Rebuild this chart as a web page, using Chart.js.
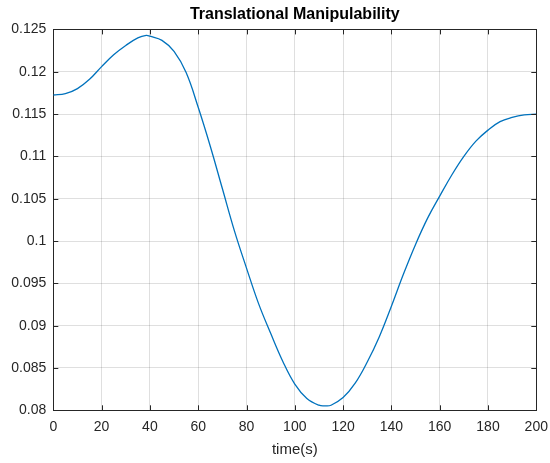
<!DOCTYPE html>
<html>
<head>
<meta charset="utf-8">
<title>Translational Manipulability</title>
<script src="https://cdn.jsdelivr.net/npm/chart.js@4"></script>
<style>
  html, body { margin: 0; padding: 0; background: #fff; }
  #wrap { width: 550px; height: 463px; }
</style>
</head>
<body>
<div id="wrap"><canvas id="myChart" width="550" height="463"></canvas></div>
<script>
// time samples (s) and manipulability
var times = [0, 5, 10, 15, 20, 25, 30, 35, 38.5, 40, 45, 50, 55, 60, 65, 70, 75, 80, 85, 90,
             95, 100, 105, 110, 112.5, 115, 120, 125, 130, 135, 140, 145, 150, 155, 160,
             165, 170, 175, 180, 185, 190, 195, 200];
var manip = [0.11725, 0.1174, 0.1180, 0.1191, 0.1206, 0.1220, 0.1231, 0.1240, 0.1243, 0.1242, 0.1237, 0.1224, 0.1199, 0.1158, 0.1112, 0.1062, 0.1012, 0.0968, 0.0926, 0.0891,
             0.0858, 0.0831, 0.0814, 0.0806, 0.08053, 0.0806, 0.0815, 0.0832, 0.0857, 0.0887, 0.0923, 0.0961, 0.0996, 0.1027, 0.1053,
             0.1078, 0.1100, 0.1118, 0.1131, 0.1141, 0.1146, 0.1149, 0.1150];

var xTicks = [0, 20, 40, 60, 80, 100, 120, 140, 160, 180, 200];
var yTicks = [0.08, 0.085, 0.09, 0.095, 0.1, 0.105, 0.11, 0.115, 0.12, 0.125];

var axisColor = '#262626';
var gridColor = 'rgba(38,38,38,0.15)';

Chart.defaults.font.family = "'Liberation Sans', Arial, sans-serif";
Chart.defaults.color = axisColor;

// MATLAB style ticks that point into the axes
var innerTicks = {
  id: 'innerTicks',
  afterDatasetsDraw: function(chart) {
    var a = chart.chartArea, ctx = chart.ctx, len = 5;
    var xs = chart.scales.x, ys = chart.scales.y;
    ctx.save();
    ctx.strokeStyle = axisColor;
    ctx.lineWidth = 1;
    ctx.beginPath();
    xTicks.forEach(function(v) {
      var px = Math.round(xs.getPixelForValue(v)) + 0.5;
      ctx.moveTo(px, a.bottom); ctx.lineTo(px, a.bottom - len);
      ctx.moveTo(px, a.top); ctx.lineTo(px, a.top + len);
    });
    yTicks.forEach(function(v) {
      var py = Math.round(ys.getPixelForValue(v)) + 0.5;
      ctx.moveTo(a.left, py); ctx.lineTo(a.left + len, py);
      ctx.moveTo(a.right, py); ctx.lineTo(a.right - len, py);
    });
    ctx.stroke();
    ctx.restore();
  }
};

function noSidePad(s) { s.paddingLeft = 0; s.paddingRight = 0; }

var ctx = document.getElementById('myChart').getContext('2d');
var chart = new Chart(ctx, {
  type: 'line',
  data: {
    datasets: [{
      data: times.map(function(t, i) { return {x: t, y: manip[i]}; }),
      borderColor: '#0072BD',
      borderWidth: 1.3,
      pointRadius: 0,
      tension: 0.4,
      fill: false
    }]
  },
  options: {
    responsive: false,
    animation: false,
    layout: { padding: 0 },
    plugins: { legend: { display: false }, tooltip: { enabled: false } },
    scales: {
      x: {
        type: 'linear', position: 'bottom', min: 0, max: 200,
        afterBuildTicks: function(s) { s.ticks = xTicks.map(function(v) { return {value: v}; }); },
        afterFit: function(s) { s.height = 52.7; noSidePad(s); },
        ticks: { font: { size: 14 }, padding: 8, maxRotation: 0, color: axisColor },
        grid: { color: gridColor, drawTicks: false },
        border: { color: axisColor, width: 1 },
        title: { display: true, text: 'time(s)', font: { size: 15 }, color: axisColor, padding: { top: 0, bottom: 4 } }
      },
      xTop: {
        type: 'linear', position: 'top', min: 0, max: 200,
        afterFit: function(s) { s.height = 29.4; noSidePad(s); },
        ticks: { display: false },
        grid: { drawOnChartArea: false, drawTicks: false },
        border: { color: axisColor, width: 1 },
        title: { display: true, text: 'Translational Manipulability', font: { size: 16, weight: 'bold' }, color: '#000', padding: { top: 5, bottom: 0 } }
      },
      y: {
        type: 'linear', position: 'left', min: 0.08, max: 0.125,
        afterBuildTicks: function(s) { s.ticks = yTicks.map(function(v) { return {value: v}; }); },
        afterFit: function(s) { s.width = 53.3; },
        ticks: {
          font: { size: 14 }, padding: 7, color: axisColor,
          callback: function(v) { return String(Number(v.toFixed(3))); }
        },
        grid: { color: gridColor, drawTicks: false },
        border: { color: axisColor, width: 1 }
      },
      yRight: {
        type: 'linear', position: 'right', min: 0.08, max: 0.125,
        afterFit: function(s) { s.width = 13.7; },
        ticks: { display: false },
        grid: { drawOnChartArea: false, drawTicks: false },
        border: { color: axisColor, width: 1 }
      }
    }
  },
  plugins: [innerTicks]
});
</script>
</body>
</html>
